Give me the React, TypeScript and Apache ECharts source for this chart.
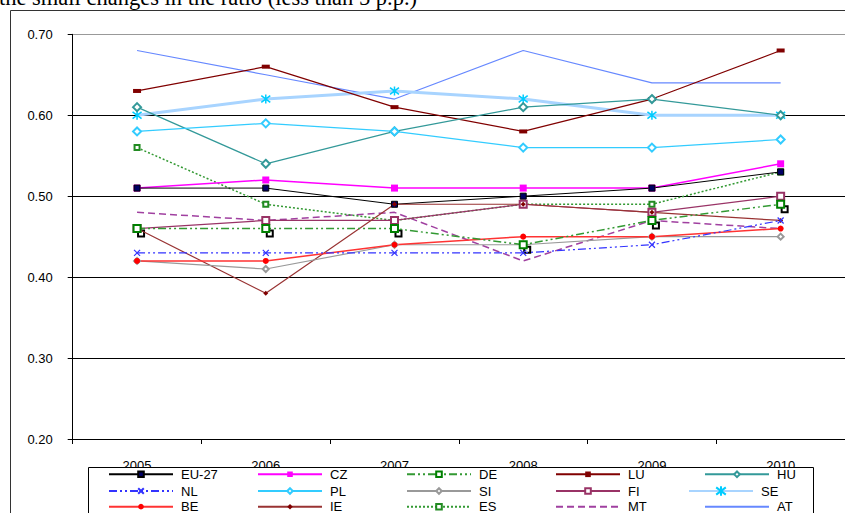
import React, { useEffect, useRef } from 'react';
import * as echarts from 'echarts';

const years = ['2005', '2006', '2007', '2008', '2009', '2010'];
const EU27 = [0.51, 0.51, 0.49, 0.50, 0.51, 0.53];
const CZ = [0.51, 0.52, 0.51, 0.51, 0.51, 0.54];
const DE = [0.46, 0.46, 0.46, 0.44, 0.47, 0.49];
const LU = [0.63, 0.66, 0.61, 0.58, 0.62, 0.68];
const HU = [0.61, 0.54, 0.58, 0.61, 0.62, 0.60];
const NL = [0.43, 0.43, 0.43, 0.43, 0.44, 0.47];
const PL = [0.58, 0.59, 0.58, 0.56, 0.56, 0.57];
const SI = [0.42, 0.41, 0.44, 0.44, 0.45, 0.45];
const FI = [0.46, 0.47, 0.47, 0.49, 0.48, 0.50];
const SE = [0.60, 0.62, 0.63, 0.62, 0.60, 0.60];
const BE = [0.42, 0.42, 0.44, 0.45, 0.45, 0.46];
const IE = [0.46, 0.38, 0.49, 0.49, 0.48, 0.47];
const ES = [0.56, 0.49, 0.47, 0.49, 0.49, 0.53];
const MT = [0.48, 0.47, 0.48, 0.42, 0.47, 0.46];
const AT = [0.68, 0.65, 0.62, 0.68, 0.64, 0.64];

const legendRows = [
  ['EU-27', 'CZ', 'DE', 'LU', 'HU'],
  ['NL', 'PL', 'SI', 'FI'],
  ['BE', 'IE', 'ES', 'MT', 'AT'],
];
const legendSolo = ['SE'];
const titleText = 'the small changes in the ratio (less than 5 p.p.)';

const ASTERISK = 'path://M5,0L5,10M1.2,1.2L8.8,8.8M8.8,1.2L1.2,8.8';
const CROSS = 'path://M0,0L10,10M10,0L0,10';
const DASHDOTDOT = [8, 3, 2, 3, 2, 3];

export default function App() {
  const ref = useRef<HTMLDivElement>(null);
  useEffect(() => {
    const chart = echarts.init(ref.current!, null, { renderer: 'svg' });
    const font = "Arial, 'Liberation Sans', sans-serif";
    const mk = (name: string, data: number[], color: string, lineStyle: any, symbol: string, symbolSize: any, itemStyle: any, extra: any = {}) => ({
      name,
      type: 'line',
      data,
      symbol,
      symbolSize,
      lineStyle: { color, width: 1, ...lineStyle },
      itemStyle: { color, ...itemStyle },
      emphasis: { disabled: true },
      ...extra,
    });
    const series = [
      mk('AT', AT, '#6688FF', { width: 1.2 }, 'circle', 0, { color: 'transparent' }, { showSymbol: false }),
      mk('MT', MT, '#A040A0', { width: 1.5, type: [7, 4] }, 'circle', 0, { color: 'transparent' }, { showSymbol: false }),
      mk('SE', SE, '#A8D4FF', { width: 3 }, ASTERISK, 9, { color: 'transparent', borderColor: '#00CCFF', borderWidth: 1.5 }),
      mk('LU', LU, '#800000', { width: 1.2 }, 'rect', [8, 4], {}),
      mk('HU', HU, '#339999', { width: 1.2 }, 'emptyDiamond', 8, { borderWidth: 1.2 }),
      mk('PL', PL, '#33CCFF', { width: 1.2 }, 'emptyDiamond', 8, { borderWidth: 1.2 }),
      mk('ES', ES, '#339933', { width: 1.5, type: [2, 2] }, 'emptyRect', 5, { color: '#228B22', borderWidth: 1 }),
      mk('CZ', CZ, '#FF00FF', { width: 1.5 }, 'rect', 7, {}),
      mk('EU-27', EU27, '#000000', { width: 1 }, 'rect', 6, { color: '#000066', borderColor: '#000', borderWidth: 1 }),
      mk('FI', FI, '#993366', { width: 1.2 }, 'emptyRect', 7, { borderWidth: 1.2 }),
      mk('IE', IE, '#993333', { width: 1.2 }, 'diamond', 5, { color: '#800000' }),
      mk('SI', SI, '#999999', { width: 1.2 }, 'emptyDiamond', 6, { borderWidth: 1 }),
      mk('BE', BE, '#FF3333', { width: 1.5 }, 'circle', 6, { color: '#FF0000' }),
      mk('NL', NL, '#3333FF', { width: 1.2, type: DASHDOTDOT }, CROSS, 6, { color: 'transparent', borderColor: '#3333FF', borderWidth: 1.2 }),
      {
        name: '_de_shadow',
        type: 'line',
        data: DE,
        symbol: 'emptyRect',
        symbolSize: 6,
        symbolOffset: [4, 5],
        lineStyle: { width: 0, opacity: 0 },
        itemStyle: { color: '#000', borderWidth: 1.8 },
        emphasis: { disabled: true },
        z: 2,
      },
      mk('DE', DE, '#339933', { width: 1.5, type: DASHDOTDOT }, 'emptyRect', 7, { color: '#008000', borderWidth: 1.8 }, { z: 3 }),
    ];
    const legendBase = {
      orient: 'horizontal',
      itemWidth: 64,
      itemHeight: 7,
      itemGap: 26,
      padding: 0,
      selectedMode: false,
      z: 10,
      textStyle: { fontSize: 13, fontFamily: font, color: '#000', width: 50, lineHeight: 14, padding: [0, 0, 0, 3] },
    };
    const legends: any[] = legendRows.map((row, i) => ({
      ...legendBase,
      data: row,
      left: 108,
      top: [467.3, 484, 499.7][i],
    }));
    legends.push({
      ...legendBase,
      data: legendSolo,
      left: 688,
      top: 484,
      itemHeight: 12,
    });
    chart.setOption({
      animation: false,
      backgroundColor: '#fff',
      grid: { left: 72.7, top: 34.3, width: 779.3, height: 404.7, containLabel: false },
      tooltip: { show: false },
      xAxis: {
        type: 'category',
        data: years,
        boundaryGap: true,
        axisLine: { lineStyle: { color: '#000', width: 1 } },
        axisTick: { show: true, length: 5, lineStyle: { color: '#000' } },
        axisLabel: { color: '#000', fontSize: 13, fontFamily: font, margin: 20 },
        splitLine: { show: false },
      },
      yAxis: {
        type: 'value',
        min: 0.2,
        max: 0.7,
        interval: 0.1,
        axisLine: { show: true, lineStyle: { color: '#000', width: 1 } },
        axisTick: { show: true, length: 5, lineStyle: { color: '#000' } },
        axisLabel: { formatter: (v: number) => v.toFixed(2), color: '#000', fontSize: 13, fontFamily: font, margin: 20 },
        splitLine: { show: true, lineStyle: { color: ['#000', '#000', '#000', '#000', '#000', '#999'], width: 1 } },
      },
      legend: legends,
      graphic: [
        { type: 'rect', shape: { x: 10.5, y: 10.5, width: 900, height: 600 }, style: { fill: 'none', stroke: '#333', lineWidth: 1 }, z: 0, silent: true },
        { type: 'rect', shape: { x: 88.5, y: 467.5, width: 725, height: 60 }, style: { fill: '#fff', stroke: '#000', lineWidth: 1 }, z: 5, silent: true },
        {
          type: 'text', x: -1, y: -2.5, z: 5, silent: true,
          style: { text: titleText, font: "22.5px 'Liberation Serif', 'Times New Roman', serif", fill: '#000', verticalAlign: 'middle' },
        },
      ],
      series,
    });
    return () => chart.dispose();
  }, []);
  return <div ref={ref} style={{ position: 'absolute', left: 0, top: 0, width: 845, height: 513 }} />;
}
